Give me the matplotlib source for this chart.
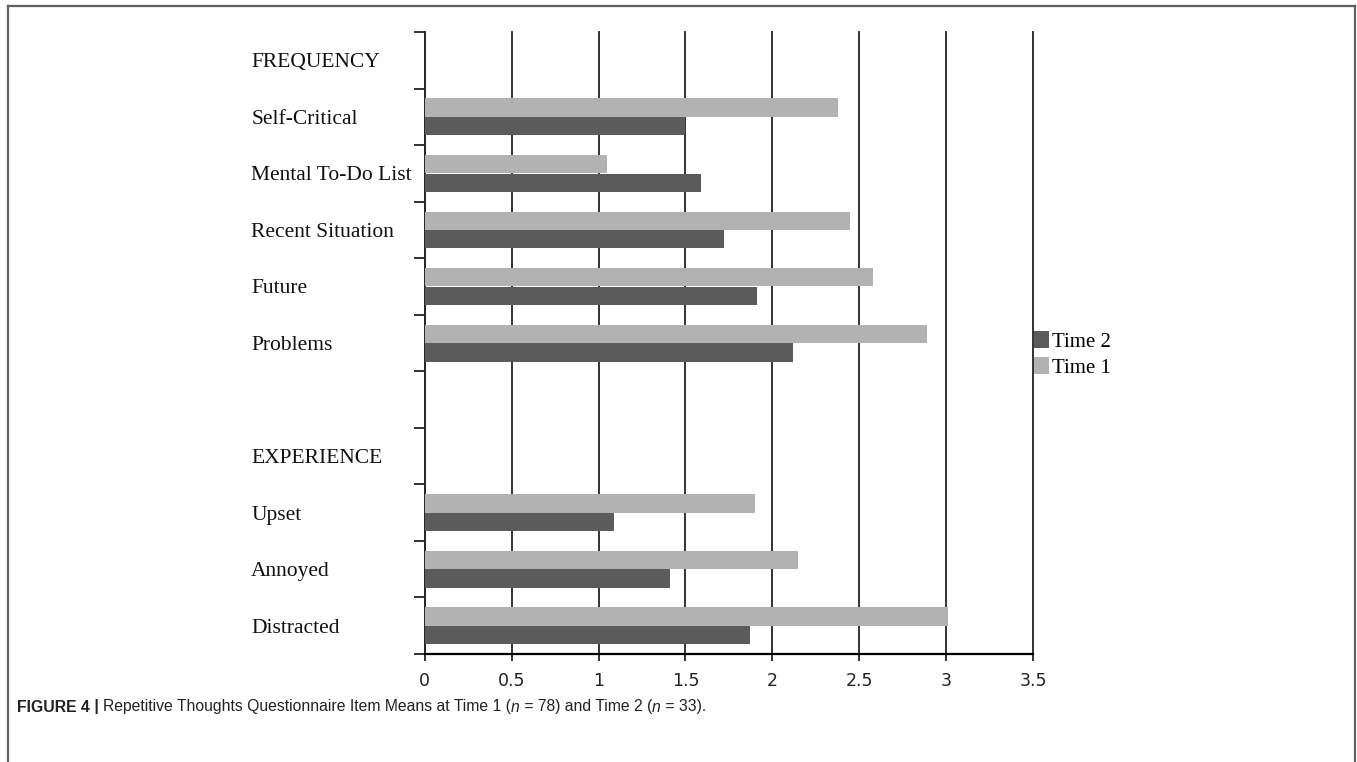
import numpy as np
import matplotlib
matplotlib.use("Agg")
import matplotlib.pyplot as plt
from matplotlib.lines import Line2D
from matplotlib.patches import Patch

# filas del grafico (de arriba hacia abajo); None = fila sin barras
row_labels = ['FREQUENCY', 'Self-Critical', 'Mental To-Do List', 'Recent Situation',
              'Future', 'Problems', '', 'EXPERIENCE', 'Upset', 'Annoyed', 'Distracted']
time1 = [None, 2.38, 1.05, 2.45, 2.58, 2.89, None, None, 1.90, 2.15, 3.01]
time2 = [None, 1.50, 1.59, 1.72, 1.91, 2.12, None, None, 1.09, 1.41, 1.87]
xticks = [0, 0.5, 1, 1.5, 2, 2.5, 3, 3.5]
xtick_labels = ['0', '0.5', '1', '1.5', '2', '2.5', '3', '3.5']

LIGHT = '#b2b2b2'
DARK = '#5b5b5b'
serif = ['Liberation Serif', 'DejaVu Serif']

fig = plt.figure(figsize=(13.57, 7.62), dpi=100)
ax = fig.add_axes([0.313, 0.1417, 0.4482, 0.8163])

n = len(row_labels)
rows = [i for i in range(n) if time1[i] is not None]
v1 = [time1[i] for i in rows]
v2 = [time2[i] for i in rows]
pos = np.array(rows, dtype=float)

ax.barh(pos + 0.337, v1, height=0.325, color=LIGHT, zorder=3, label='Time 1')
ax.barh(pos + 0.665, v2, height=0.325, color=DARK, zorder=3, label='Time 2')

# lineas verticales
for x in xticks[1:]:
    ax.axvline(x, color='#333333', lw=1.4, zorder=2, clip_on=False)

ax.set_xlim(0, 3.5)
ax.set_ylim(n, 0)
for s in ['top', 'right']:
    ax.spines[s].set_visible(False)
ax.spines['left'].set_color('#222222')
ax.spines['left'].set_linewidth(1.4)
ax.spines['bottom'].set_color('black')
ax.spines['bottom'].set_linewidth(1.6)

ax.set_xticks(xticks)
ax.set_xticklabels(xtick_labels, fontsize=12.5, family='DejaVu Sans', color='#222222')
ax.tick_params(axis='x', direction='out', length=5, width=1.3, pad=8, color='#222222')

# ticks mayores en los bordes, etiquetas en los centros
ax.set_yticks(np.arange(0, n + 1))
ax.set_yticklabels([])
ax.tick_params(axis='y', which='major', direction='out', length=8, width=1.3, color='#222222')
ax.set_yticks(np.arange(n) + 0.5, minor=True)
ax.set_yticklabels(row_labels, minor=True, fontsize=15.5, family=serif, ha='left',
                   color='#111111')
ax.tick_params(axis='y', which='minor', length=0, pad=125)

handles = [Patch(facecolor=DARK, edgecolor='none'), Patch(facecolor=LIGHT, edgecolor='none')]
fig.legend(handles, ['Time 2', 'Time 1'], loc='center left',
           bbox_to_anchor=(0.751, 0.535), frameon=False,
           prop={'family': serif, 'size': 15},
           handlelength=0.72, handleheight=0.9, handletextpad=0.15,
           labelspacing=0.25, borderpad=0.2)

# marco de la figura
frame_kw = dict(color='#606060', lw=1.6, transform=fig.transFigure)
fig.add_artist(Line2D([8/1357, 1355/1357], [1 - 6/762, 1 - 6/762], **frame_kw))
fig.add_artist(Line2D([8/1357, 8/1357], [1 - 6/762, 0], **frame_kw))
fig.add_artist(Line2D([1355/1357, 1355/1357], [1 - 6/762, 0], **frame_kw))

# leyenda de la figura (texto por partes)
sans = ['Liberation Sans Narrow', 'Liberation Sans', 'DejaVu Sans']
parts = [('FIGURE 4', 'bold', 'normal'), (' | ', 'bold', 'normal'),
         ('Repetitive Thoughts Questionnaire Item Means at Time 1 (', 'normal', 'normal'),
         ('n', 'normal', 'italic'), (' = 78) and Time 2 (', 'normal', 'normal'),
         ('n', 'normal', 'italic'), (' = 33).', 'normal', 'normal')]
fig.canvas.draw()
renderer = fig.canvas.get_renderer()
x0 = 17
y_cap = 1 - 707 / 762
for txt, weight, style in parts:
    t = fig.text(x0 / 1357, y_cap, txt, fontsize=11.3, family=sans, weight=weight,
                 style=style, va='center', ha='left', color='#222222')
    x0 = t.get_window_extent(renderer).x1

fig.savefig('out.png', dpi=100)
